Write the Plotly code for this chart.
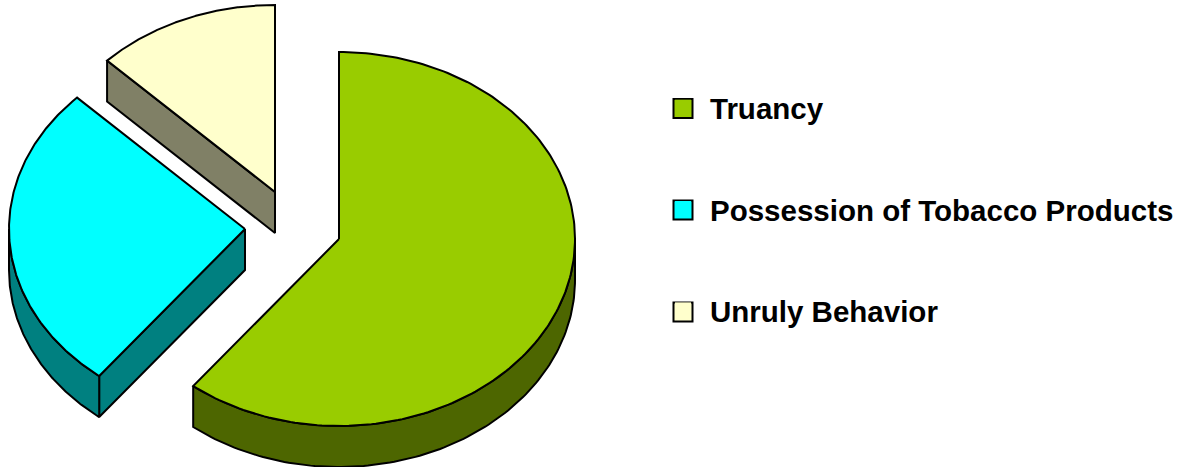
import numpy as np
import plotly.graph_objects as go

categories = ["Truancy", "Possession of Tobacco Products", "Unruly Behavior"]
values = [60.6, 26.8, 12.6]
top_colors = ["#99CC00", "#00FFFF", "#FFFFCC"]
side_colors = ["#4D6600", "#008080", "#808066"]
centers = [(339, 239), (245, 229), (275, 192)]
RX, RY, DEPTH = 236, 187, 41
swatch_x = [683, 683, 683]
swatch_y = [108.5, 210, 312]

W, H = 1188, 467
fracs = np.array(values) / sum(values) * 2 * np.pi
ends = np.cumsum(fracs)
starts = ends - fracs


def pt(c, a, dy=0):
    return c[0] + RX * np.sin(a), c[1] - RY * np.cos(a) + dy


def poly(fig, xs, ys, color):
    fig.add_trace(go.Scatter(x=list(xs), y=list(ys), mode="lines", fill="toself", fillcolor=color,
                             line=dict(color="black", width=2), showlegend=False, hoverinfo="skip"))


fig = go.Figure()
for i in [2, 1, 0]:
    c, a0, a1 = centers[i], starts[i], ends[i]
    # radial walls facing the viewer
    for a in (a0, a1):
        mid = (a0 + a1) / 2
        px, py = pt(c, a)
        mx, my = pt(c, mid)
        if px != c[0]:
            line_y = c[1] + (py - c[1]) * (mx - c[0]) / (px - c[0])
            if my < line_y:
                poly(fig, [c[0], px, px, c[0], c[0]], [c[1], py, py + DEPTH, c[1] + DEPTH, c[1]], side_colors[i])
    # outer wall, front half only
    lo, hi = max(a0, np.pi / 2), min(a1, 3 * np.pi / 2)
    if hi > lo:
        t = np.linspace(lo, hi, 120)
        ax, ay = pt(c, t)
        poly(fig, np.r_[ax, ax[::-1], ax[0]], np.r_[ay, ay[::-1] + DEPTH, ay[0]], side_colors[i])
    # top face
    t = np.linspace(a0, a1, 200)
    ax, ay = pt(c, t)
    poly(fig, np.r_[c[0], ax, c[0]], np.r_[c[1], ay, c[1]], top_colors[i])

# outlined swatches sit under the legend markers, which plotly caps at 16 px
fig.add_trace(go.Scatter(x=swatch_x, y=swatch_y, mode="markers", showlegend=False, hoverinfo="skip",
                         marker=dict(symbol="square", size=19, color=top_colors,
                                     line=dict(color="black", width=2))))

for i, name in enumerate(categories):
    fig.add_trace(go.Scatter(x=[None], y=[None], mode="markers", name=name, legendgroup=name,
                             marker=dict(symbol="square", size=16, color=top_colors[i],
                                         line=dict(color=top_colors[i], width=0))))

fig.update_layout(
    width=W, height=H, margin=dict(l=0, r=0, t=0, b=0),
    paper_bgcolor="white", plot_bgcolor="white",
    xaxis=dict(range=[0, W], visible=False, fixedrange=True),
    yaxis=dict(range=[H, 0], visible=False, fixedrange=True),
    legend=dict(x=656 / W, y=1 - 82 / H, xanchor="left", yanchor="top", tracegroupgap=60,
                itemsizing="trace", itemwidth=44, traceorder="grouped", bgcolor="rgba(0,0,0,0)",
                font=dict(family="Liberation Sans", size=29.5, color="black", weight="bold")),
    hovermode=False,
)
fig.write_html("out.html", config=dict(displayModeBar=False),
               post_script="document.body.style.margin='0';")
